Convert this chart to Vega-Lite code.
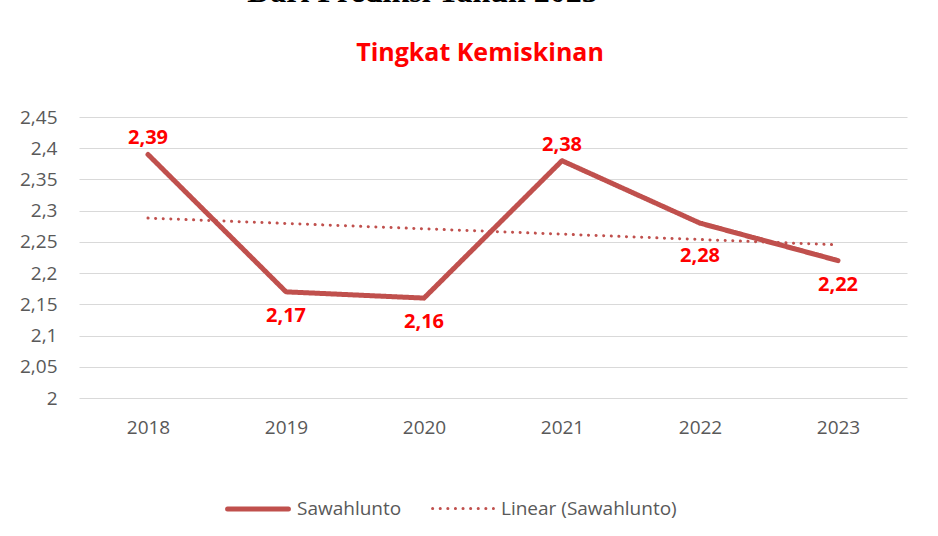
{
  "$schema": "https://vega.github.io/schema/vega-lite/v6.json",
  "width": 828,
  "height": 281,
  "autosize": {"type": "none"},
  "padding": {"left": 79, "top": 117, "right": 31, "bottom": 138},
  "background": "white",
  "title": {
    "text": "Dari Prediksi Tahun 2023\u2800\u2800\u2800\u2800\u2800",
    "subtitle": "Tingkat Kemiskinan",
    "font": "Liberation Serif",
    "fontSize": 32,
    "fontWeight": "bold",
    "color": "#000000",
    "subtitleFont": "Open Sans",
    "subtitleFontSize": 25,
    "subtitleFontWeight": "bold",
    "subtitleColor": "#FF0000",
    "subtitlePadding": 32,
    "offset": 41,
    "anchor": "middle",
    "dx": -13
  },
  "data": {
    "values": [
      {"year": 2018, "value": 2.39},
      {"year": 2019, "value": 2.17},
      {"year": 2020, "value": 2.16},
      {"year": 2021, "value": 2.38},
      {"year": 2022, "value": 2.28},
      {"year": 2023, "value": 2.22}
    ]
  },
  "config": {
    "locale": {"number": {"decimal": ",", "thousands": ".", "grouping": [3], "currency": ["", ""]}},
    "view": {"stroke": null},
    "axis": {
      "labelFont": "Open Sans",
      "labelFontSize": 19,
      "labelColor": "#595959",
      "ticks": false,
      "domain": false,
      "title": null
    },
    "legend": {
      "title": null,
      "orient": "none",
      "legendX": 146,
      "legendY": 359,
      "direction": "horizontal",
      "symbolType": "stroke",
      "symbolSize": 3700,
      "labelFont": "Open Sans",
      "labelFontSize": 19,
      "labelColor": "#595959",
      "labelLimit": 400,
      "columnPadding": 24,
      "labelOffset": 6
    }
  },
  "encoding": {
    "x": {
      "field": "year",
      "type": "quantitative",
      "scale": {"domain": [2017.5, 2023.5], "nice": false, "zero": false},
      "axis": {"values": [2018, 2019, 2020, 2021, 2022, 2023], "format": "d", "grid": false, "labelPadding": 20, "title": null}
    },
    "y": {
      "field": "value",
      "type": "quantitative",
      "scale": {"domain": [2, 2.45], "nice": false, "zero": false},
      "axis": {
        "values": [2, 2.05, 2.1, 2.15, 2.2, 2.25, 2.3, 2.35, 2.4, 2.45],
        "format": ".2~f",
        "grid": true,
        "gridColor": "#D9D9D9",
        "gridWidth": 1.2,
        "labelPadding": 22,
        "title": null
      }
    }
  },
  "layer": [
    {
      "mark": {"type": "line", "strokeCap": "round", "strokeJoin": "round"},
      "encoding": {
        "color": {
          "datum": "Sawahlunto",
          "scale": {"domain": ["Sawahlunto", "Linear (Sawahlunto)"], "range": ["#C0504D", "#C0504D"]},
          "legend": {"encode": {"symbols": {"update": {"strokeCap": {"value": "round"}}}}}
        },
        "strokeDash": {
          "datum": "Sawahlunto",
          "scale": {"domain": ["Sawahlunto", "Linear (Sawahlunto)"], "range": [[1, 0], [0.1, 7.5]]}
        },
        "strokeWidth": {
          "datum": "Sawahlunto",
          "scale": {"domain": ["Sawahlunto", "Linear (Sawahlunto)"], "range": [5, 3]}
        }
      }
    },
    {
      "transform": [{"regression": "value", "on": "year"}],
      "mark": {"type": "line", "strokeCap": "round"},
      "encoding": {
        "color": {"datum": "Linear (Sawahlunto)"},
        "strokeDash": {"datum": "Linear (Sawahlunto)"},
        "strokeWidth": {"datum": "Linear (Sawahlunto)"}
      }
    },
    {
      "transform": [{"filter": "datum.year == 2018 || datum.year == 2021"}],
      "mark": {"type": "text", "font": "Open Sans", "fontSize": 20, "fontWeight": "bold", "color": "#FF0000", "dy": -16, "baseline": "middle"},
      "encoding": {"text": {"field": "value", "type": "quantitative", "format": ".2f"}}
    },
    {
      "transform": [{"filter": "datum.year == 2019 || datum.year == 2020 || datum.year == 2023"}],
      "mark": {"type": "text", "font": "Open Sans", "fontSize": 20, "fontWeight": "bold", "color": "#FF0000", "dy": 24, "baseline": "middle"},
      "encoding": {"text": {"field": "value", "type": "quantitative", "format": ".2f"}}
    },
    {
      "transform": [{"filter": "datum.year == 2022"}],
      "mark": {"type": "text", "font": "Open Sans", "fontSize": 20, "fontWeight": "bold", "color": "#FF0000", "dy": 33, "baseline": "middle"},
      "encoding": {"text": {"field": "value", "type": "quantitative", "format": ".2f"}}
    }
  ]
}
